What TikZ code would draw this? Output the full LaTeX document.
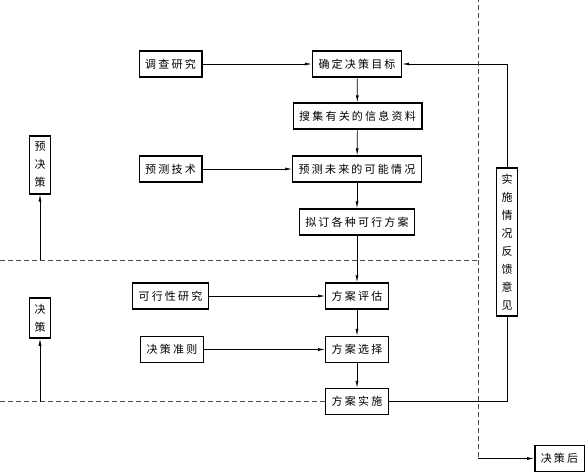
\documentclass[tikz,border=0pt]{standalone}
\usepackage{fontspec}
\newfontfamily\cjk[LetterSpace=20]{Noto Sans CJK SC}
\usetikzlibrary{arrows.meta,positioning,calc}
\tikzset{
  stagebox/.style={draw,line width=1.4pt,font=\cjk\fontsize{11}{13}\selectfont,
    inner xsep=6pt,inner ysep=0pt,minimum height=26pt},
  phasebox/.style={draw,line width=1.4pt,font=\cjk\fontsize{11}{18}\selectfont,
    align=center,inner xsep=5pt,inner ysep=6pt},
  flow/.style={-{Latex[length=7pt,width=3pt]},line width=0.7pt},
  plain/.style={line width=0.7pt},
  phase/.style={line width=0.7pt,black!70,dash pattern=on 5pt off 3pt}
}

\begin{document}
\begin{tikzpicture}[x=1pt,y=-1pt]
  \useasboundingbox (0,0) rectangle (586,472);
  % main column
  \node[stagebox] (mubiao) at (357,64)    {确定决策目标};
  \node[stagebox] (souji)  at (357.5,116) {搜集有关的信息资料};
  \node[stagebox] (yuce)   at (357,169)   {预测未来的可能情况};
  \node[stagebox] (niding) at (357,222)   {拟订各种可行方案};
  \node[stagebox] (pinggu) at (357,296)   {方案评估};
  \node[stagebox] (xuanze) at (357,349.5) {方案选择};
  \node[stagebox] (shishi) at (357,401.5) {方案实施};
  % inputs
  \node[stagebox] (diaocha)   at (170.5,64)  {调查研究};
  \node[stagebox] (yucejishu) at (170.5,169) {预测技术};
  \node[stagebox] (kexing)    at (170.5,296) {可行性研究};
  \node[stagebox] (zhunze)    at (172,349.5) {决策准则};
  % phases
  \node[phasebox] (yujuece)  at (40,165)  {预\\决\\策};
  \node[phasebox] (juece)    at (40,318)  {决\\策};
  \node[phasebox] (fankui)   at (507,242) {实\\施\\情\\况\\反\\馈\\意\\见};
  \node[stagebox] (juecehou) at (559.5,458.5) {决策后};
  \coordinate (ctop)    at (478,0);
  \coordinate (ccorner) at (478,260);
  \coordinate (cleft)   at (0,260);
  \coordinate (cbot)    at (478,458.5);
  \coordinate (lleft)   at (0,401.5);
  \coordinate (yuup)    at (40,260);
  \coordinate (jup)     at (40,401.5);

  \foreach \a/\b in {mubiao/souji,souji/yuce,yuce/niding,niding/pinggu,
                     pinggu/xuanze,xuanze/shishi}
    \draw[flow] (\a) -- (\b);
  \foreach \a/\b in {diaocha/mubiao,yucejishu/yuce,kexing/pinggu,zhunze/xuanze}
    \draw[flow] (\a.east) -- (\a.east -| \b.west);

  % feedback loop
  \draw[plain] (shishi.east) -- (shishi.east -| fankui.south) -- (fankui.south);
  \draw[flow] (fankui.north) |- (mubiao.east);

  % phase borders
  \draw[phase] (cleft) -- (ccorner) -- (ctop);
  \draw[phase] (ccorner) -- (cbot);
  \draw[phase] (lleft) -- (shishi.west);
  \draw[flow] (cbot) -- (juecehou.west);
  \draw[flow] (yuup) -- (yujuece.south);
  \draw[flow] (jup) -- (juece.south);
\end{tikzpicture}
\end{document}
